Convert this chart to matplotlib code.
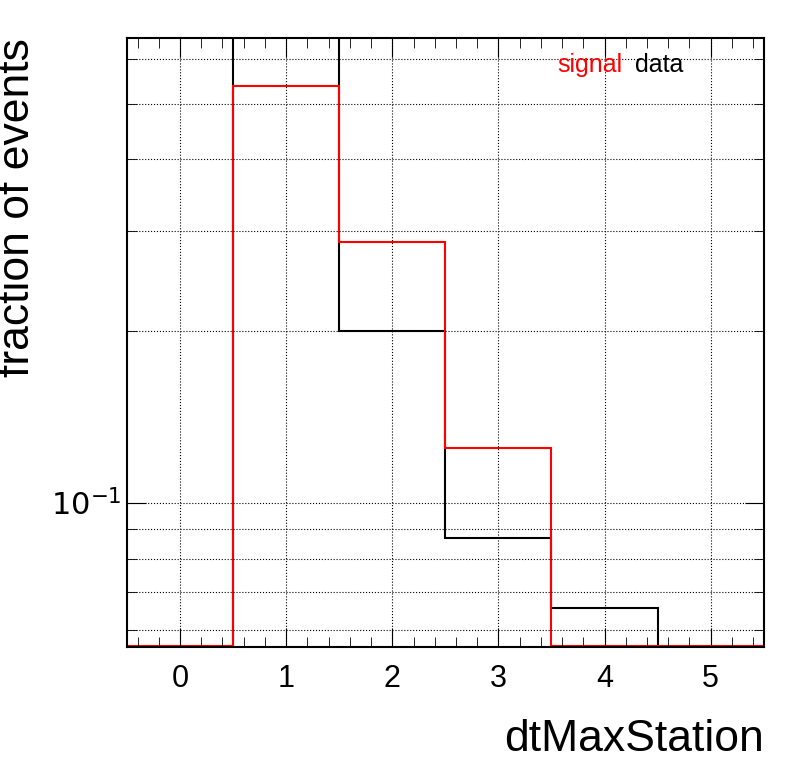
import numpy as np
import matplotlib.pyplot as plt
from matplotlib.ticker import NullFormatter, FixedLocator, MultipleLocator

plt.rcParams['font.family'] = ['Liberation Sans', 'DejaVu Sans']

edges = np.arange(-0.5, 6.0, 1.0)
data_frac = [0.0561, 0.70, 0.200, 0.0868, 0.0655, 0.0561]
signal_frac = [0.0562, 0.537, 0.286, 0.125, 0.0562, 0.0562]

fig = plt.figure(figsize=(7.96, 7.72), dpi=100)
ax = fig.add_axes([0.1595, 0.1619, 0.800, 0.789])

ax.stairs(data_frac, edges, baseline=1e-5, color='black', lw=1.5)
ax.stairs(signal_frac, edges, baseline=1e-5, color='red', lw=1.5)

ax.set_yscale('log')
ax.set_xlim(-0.5, 5.5)
ax.set_ylim(0.056, 0.652)

ax.xaxis.set_major_locator(MultipleLocator(1))
ax.xaxis.set_minor_locator(MultipleLocator(0.2))
ax.yaxis.set_major_locator(FixedLocator([0.1]))
ax.yaxis.set_major_formatter(plt.FuncFormatter(lambda v, p: r'$10^{-1}$'))
ax.yaxis.set_minor_locator(FixedLocator([0.06, 0.07, 0.08, 0.09, 0.2, 0.3, 0.4, 0.5, 0.6]))
ax.yaxis.set_minor_formatter(NullFormatter())

ax.grid(True, which='major', axis='x', linestyle=':', color='black', lw=0.8)
ax.grid(True, which='both', axis='y', linestyle=':', color='black', lw=0.8)

ax.tick_params(which='both', direction='in', top=True, right=True, labelsize=22)
ax.tick_params(which='major', length=14)
ax.tick_params(which='minor', length=7)
ax.tick_params(axis='x', pad=12)
for s in ax.spines.values():
    s.set_linewidth(1.5)

ax.set_xlabel('dtMaxStation', fontsize=32, loc='right', labelpad=18)
ax.set_ylabel('fraction of events', fontsize=32, loc='top', labelpad=10)

ax.text(0.675, 0.975, 'signal', color='red', fontsize=18, transform=ax.transAxes, va='top')
ax.text(0.798, 0.975, 'data', color='black', fontsize=18, transform=ax.transAxes, va='top')

fig.savefig('out.png')
